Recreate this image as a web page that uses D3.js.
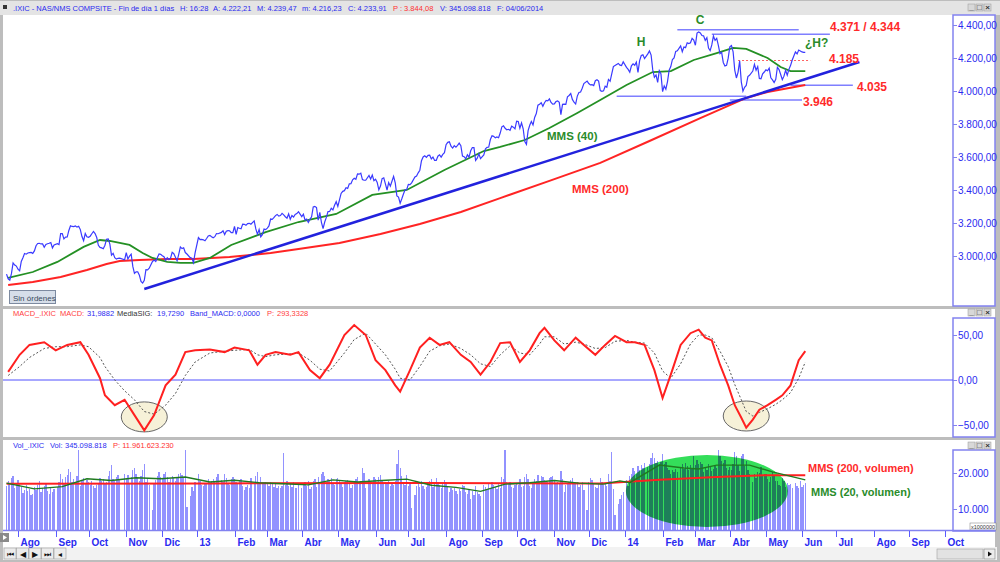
<!DOCTYPE html>
<html>
<head>
<meta charset="utf-8">
<script src="https://cdn.jsdelivr.net/npm/d3@7"></script>
<style>
body { margin: 0; background: #bdbdbd; }
svg { display: block; font-family: "Liberation Sans", Arial, sans-serif; }
</style>
</head>
<body>
<svg id="chart" width="1000" height="562"></svg>
<script>
// one value per weekday, starting Mon 23 Jul 2012 (null = market closed)
var priceClose = [
  2890,2862,2854,2893,2958, 2945,2939,2920,2910,2967, 2990,3015,3011,3018,3020, 3022,3016,3031,3062,3076,
  3077,3073,3073,3053,3070, 3074,3077,3081,3049,3067, null,3075,3069,3136,3136, 3104,3114,3115,3155,3183,
  3179,3178,3182,3175,3180, 3160,3118,3093,3136,3116, 3113,3120,3135,3149,3136, 3112,3065,3052,3049,3044,
  3065,3102,3104,3072,3005, 3016,2990,2981,2986,2987, null,null,2977,3020,2982, 2999,3011,2937,2895,2904,
  2904,2884,2846,2836,2853, 2917,2916,2926,null,2967, 2976,2967,2991,3012,3010, 3002,2996,2974,2989,2978,
  2987,3022,3014,2992,2971, 3010,3055,3045,3050,3021, 3012,null,2990,2986,2960, 3020,null,3112,3100,3101,
  3098,3092,3106,3121,3125, 3117,3110,3117,3136,3135, null,3143,3153,3130,3150, 3154,3153,3142,3142,3179,
  3131,3172,3168,3165,3193, 3192,3186,3196,3198,3193, null,3213,3164,3131,3161, 3116,3129,3163,3160,3169,
  3182,3224,3222,3232,3245, 3252,3242,3245,3258,3249, 3238,3229,3255,3223,3245, 3236,3252,3257,3268,null,
  3239,3254,3218,3224,3203, 3222,3237,3297,3300,3294, 3217,3265,3204,3166,3206, 3234,3269,3270,3289,3279,
  3307,3329,3300,3340,3379, 3392,3396,3414,3410,3437, 3438,3462,3471,3465,3498, 3496,3502,3463,3459,3459,
  null,3488,3467,3491,3456, 3465,3446,3401,3424,3469, 3474,3437,3400,3445,3423, 3453,3483,3443,3364,3357,
  3320,3347,3376,3401,3403, 3434,3433,3443,null,3479, 3485,3504,3520,3578,3600, 3607,3598,3610,3611,3588,
  3600,3579,3579,3605,3613, 3599,3616,3626,3675,3689, 3692,3666,3654,3669,3660, 3670,3684,3669,3606,3602,
  3589,3613,3599,3638,3657, 3657,3579,3593,3620,3590, null,3612,3649,3658,3660, 3706,3729,3725,3716,3722,
  3717,3745,3783,3789,3774, 3765,3768,3762,3787,3781, 3771,3817,3815,3774,3807, 3771,3694,3677,3760,3792,
  3815,3794,3840,3863,3914, 3920,3929,3907,3929,3943, 3940,3952,3931,3920,3922, 3936,3940,3931,3857,3919,
  3920,3919,3965,3973,3985, 3949,3932,3921,3969,3991, 3994,4017,4045,null,4060, 4045,4037,4038,4033,4062,
  4068,4060,4003,3998,4001, 4029,4023,4070,4059,4104, 4148,4155,null,4167,4157, 4154,4177,null,4143,4131,
  4114,4153,4165,4156,4175, 4113,4184,4215,4219,4197, null,4225,4243,4218,4128, 4083,4097,4052,4123,4104,
  3996,4031,4011,4057,4126, 4148,4191,4201,4240,4244, null,4273,4238,4267,4263, 4292,4287,4292,4319,4308,
  4277,4351,4358,4352,4336, 4334,4307,4323,4260,4245, 4279,4333,4307,4319,4276, 4226,4234,4173,4151,4155,
  4199,4268,4276,4238,4127, 4079,4113,4183,4054,3999, 4022,4034,4087,4095,null, 4121,4161,4126,4148,4076,
  4074,4104,4115,4128,4123, 4139,4080,4067,4051,4071, 4144,4130,4100,4069,4090, 4125,4096,4131,4154,4186,
  null,4237,4225,4248,4243, 4237,4234,4234
];

// volume, same weekday index, axis units (20 = "20.000")
var volume = [
  16.5,17.8,16.9,18.6,19.2, 15.8,17.3,18.1,17.0,16.2, 14.5,15.2,16.8,14.9,15.6, 13.8,14.2,16.1,15.4,16.7,
  17.9,14.6,15.9,16.4,17.2, 15.1,14.3,16.0,14.8,15.5, null,16.2,17.5,19.8,18.4, 17.1,18.9,19.5,21.2,20.4,
  17.6,18.2,17.4,19.1,26.5, 16.3,17.8,18.6,17.2,18.1, 17.4,16.8,17.9,16.5,15.9, 16.7,17.3,18.6,17.8,18.2,
  16.9,17.5,19.3,20.6,22.1, 18.4,17.9,18.8,19.4,18.1, null,null,19.6,18.5,19.4, 17.3,18.8,20.9,21.5,19.7,
  18.6,17.9,19.2,20.7,22.4, 17.5,18.3,16.8,null,9.8, 17.2,18.0,19.1,20.3,18.8, 18.2,19.6,20.4,18.9,17.5,
  18.3,19.2,18.7,17.9,18.5, 19.8,20.1,19.4,18.7,27.0, 10.5,null,13.6,16.2,15.1, 17.4,null,19.8,17.9,16.8,
  16.5,17.1,16.9,18.3,17.2, 17.8,18.4,17.6,18.9,19.6, null,18.1,17.4,19.8,18.6, 17.3,16.8,18.2,18.9,18.4,
  17.6,16.9,17.8,18.2,16.5, 15.4,16.1,16.8,15.9,18.7, null,17.3,19.1,20.4,17.2, 18.8,17.1,16.9,17.6,17.2,
  16.4,17.5,16.9,16.2,17.1, 15.8,16.4,15.9,16.3,25.5, 16.8,17.9,16.5,17.2,16.1, 17.4,15.7,15.9,16.8,null,
  15.8,16.9,17.6,16.4,17.9, 15.6,16.2,17.8,18.4,16.1, 18.9,17.3,19.6,20.2,19.1, 17.4,18.2,17.9,18.6,17.1,
  16.8,18.3,18.6,17.9,17.1, 16.2,17.4,17.8,18.1,17.3, 15.9,16.8,17.6,18.2,18.9, 17.4,17.9,21.3,20.1,15.8,
  null,18.4,17.6,17.1,18.8, 18.4,17.6,18.9,19.4,17.8, 16.9,17.5,17.1,17.8,16.4, 17.2,16.6,17.9,22.6,26.8,
  21.4,19.2,17.6,16.8,19.5, 16.4,16.9,10.2,null,13.8, 16.5,16.9,16.2,17.8,16.4, 15.6,16.2,16.8,17.9,18.4,
  16.1,17.2,18.6,17.4,16.8, 15.9,17.3,18.1,17.6,16.2, 14.8,15.9,15.4,15.7,14.9, 14.2,15.6,15.1,16.8,16.3,
  14.6,14.2,15.3,12.8,14.9, 13.9,16.4,14.7,14.2,13.6, null,16.8,16.2,15.4,17.1, 15.9,17.4,16.8,16.1,15.6,
  16.9,15.8,18.9,18.2,27.2, 17.6,16.9,17.4,16.1,15.8, 16.7,17.2,16.8,18.4,16.1, 16.5,18.9,19.6,18.2,16.4,
  15.8,17.6,18.3,17.9,19.4, 17.6,19.2,18.8,18.1,17.9, 17.4,18.6,18.9,19.3,17.8, 16.9,17.4,17.1,20.6,18.4,
  14.6,16.8,17.2,17.5,18.1, 18.6,17.4,16.9,17.6,16.2, 16.8,17.5,15.2,null,9.6, 17.4,18.6,18.1,16.9,16.2,
  15.8,17.1,18.6,17.4,16.8, 17.2,16.4,19.8,17.9,25.8, 15.6,8.2,null,11.4,12.9, 13.8,14.6,null,18.1,16.4,
  19.2,19.8,21.4,20.6,19.7, 21.9,20.8,22.1,21.4,22.8, null,21.6,22.4,24.1,25.6, 24.2,22.8,23.4,22.6,23.1,
  25.2,22.6,23.1,21.4,20.8, 19.6,20.9,20.4,21.1,20.2, null,21.6,22.4,21.2,22.7, 21.9,20.8,22.3,21.4,24.6,
  22.1,23.6,22.4,23.1,22.6, 20.4,21.8,20.9,22.6,21.7, 20.6,21.2,21.9,21.4,27.6, 24.8,23.2,22.9,23.6,21.4,
  20.8,21.6,20.9,22.4,25.8, 24.6,22.1,20.6,24.8,25.2, 21.9,23.4,20.8,19.6,null, 17.4,19.8,18.6,20.4,19.9,
  21.6,19.2,19.8,19.6,18.4, 17.6,18.9,20.4,19.1,17.8, 17.9,16.8,16.4,18.6,17.9, 16.2,17.1,16.6,16.9,15.8,
  null,17.2,16.4,15.9,17.8, 16.1,16.8,17.3
];

var mms40 = [
  ["2012-07-24",2867],["2012-08-14",2903],["2012-09-04",2964],["2012-09-26",3055],["2012-10-10",3097],
  ["2012-10-18",3091],["2012-11-05",3067],["2012-11-15",3018],["2012-11-23",2988],["2012-12-06",2964],
  ["2012-12-18",2958],["2012-12-28",2958],["2013-01-11",2988],["2013-01-30",3067],["2013-02-28",3145],
  ["2013-03-28",3206],["2013-04-30",3255],["2013-05-30",3370],["2013-06-28",3400],["2013-07-31",3521],
  ["2013-09-03",3636],["2013-09-17",3661],["2013-10-08",3703],["2013-10-29",3776],["2013-11-21",3867],
  ["2013-12-11",3945],["2014-01-02",4036],["2014-01-24",4115],["2014-02-10",4121],["2014-02-28",4188],
  ["2014-03-20",4230],["2014-04-03",4261],["2014-04-15",4255],["2014-05-02",4200],["2014-05-14",4145],
  ["2014-05-22",4121],["2014-06-04",4121]
];

var mms200 = [
  ["2012-07-24",2824],["2012-08-14",2842],["2012-09-06",2873],["2012-09-28",2915],["2012-10-16",2952],
  ["2012-10-26",2970],["2012-11-13",2976],["2012-12-06",2982],["2012-12-28",2982],["2013-01-29",2994],
  ["2013-03-05",3018],["2013-03-28",3042],["2013-05-02",3079],["2013-06-06",3133],["2013-07-10",3194],
  ["2013-08-14",3267],["2013-09-17",3351],["2013-10-29",3455],["2013-12-11",3564],["2014-01-22",3697],
  ["2014-03-06",3836],["2014-04-15",3958],["2014-05-02",3994],["2014-06-04",4036]
];

var trendLine = [["2012-11-16",2800],["2014-07-21",4176]];

// [from, to, level]
var levelLines = [
  ["2014-02-14","2014-05-29",4371],
  ["2014-03-17","2014-06-25",4344],
  ["2013-12-25","2014-04-15",3968],
  ["2014-04-01","2014-06-02",3946],
  ["2014-05-22","2014-07-15",4035]
];
var resistance = ["2014-04-08","2014-06-09",4185];

var priceTicks = [3000,3200,3400,3600,3800,4000,4200,4400];

var macdDates = [
  "2012-07-24","2012-08-02","2012-08-10","2012-08-23","2012-09-03","2012-09-12","2012-09-24","2012-10-01",
  "2012-10-10","2012-10-15","2012-10-23","2012-10-31","2012-11-08","2012-11-16","2012-11-26","2012-12-05",
  "2012-12-13","2012-12-21","2012-12-31","2013-01-11","2013-01-24","2013-02-01","2013-02-14","2013-02-21",
  "2013-02-28","2013-03-08","2013-03-21","2013-03-28","2013-04-08","2013-04-16","2013-04-24","2013-05-07",
  "2013-05-15","2013-05-24","2013-06-03","2013-06-11","2013-06-19","2013-06-24","2013-07-02","2013-07-10",
  "2013-07-18","2013-07-26","2013-08-05","2013-08-14","2013-08-22","2013-08-30","2013-09-09","2013-09-17",
  "2013-09-25","2013-10-03","2013-10-11","2013-10-21","2013-10-24","2013-11-01","2013-11-11","2013-11-20",
  "2013-11-27","2013-12-06","2013-12-16","2013-12-24","2014-01-02","2014-01-09","2014-01-17","2014-01-27",
  "2014-02-03","2014-02-10","2014-02-18","2014-02-26","2014-03-05","2014-03-11","2014-03-17","2014-03-24",
  "2014-03-31","2014-04-04","2014-04-10","2014-04-15","2014-04-21","2014-04-25","2014-05-02","2014-05-09",
  "2014-05-15","2014-05-22","2014-05-29","2014-06-04"
];
var macdLine = [
  9,28,39,42,33,39,42,28, 2,-17,-28,-22,-39,-56,-39,-6,
  6,31,33,34,31,36,33,17, 28,31,28,31,11,2,17,50,
  61,50,22,11,-6,-13,11,36, 47,39,42,28,20,6,20,41,
  42,20,33,52,58,44,33,47, 39,28,39,49,42,42,39,11,
  -20,6,39,52,56,47,44,17, -6,-28,-42,-53,-44,-33,-28,-22,
  -17,-6,22,32
];
var macdSignal = [
  5,15,25,35,37,37,39,37, 25,15,0,-12,-22,-35,-38,-28,
  -15,5,20,30,32,33,34,28, 26,28,29,30,22,12,10,30,
  45,52,40,28,12,2,0,15, 32,38,40,35,28,18,15,28,
  38,30,28,40,48,48,40,42, 40,35,36,43,44,42,41,30,
  10,2,18,40,50,50,47,32, 15,-5,-22,-35,-40,-36,-32,-27,
  -22,-14,2,20
];
var macdTicks = [-50,0,50];
var macdCircles = [["2012-11-16",-41],["2014-04-15",-40]];

var volMA20 = [
  ["2012-07-23",17.2],["2012-08-15",15.6],["2012-09-07",16.2],["2012-09-28",18.4],["2012-10-19",17.9],
  ["2012-11-09",18.7],["2012-11-30",18.4],["2012-12-21",18.9],["2013-01-11",17.5],["2013-02-01",18.0],
  ["2013-02-22",17.3],["2013-03-15",17.0],["2013-04-05",16.7],["2013-04-26",18.1],["2013-05-17",17.5],
  ["2013-06-07",17.9],["2013-06-28",18.3],["2013-07-19",16.6],["2013-08-09",16.0],["2013-08-30",14.9],
  ["2013-09-20",16.9],["2013-10-11",17.3],["2013-11-01",17.9],["2013-11-22",17.2],["2013-12-13",16.9],
  ["2013-12-27",17.8],["2014-01-06",17.3],["2014-01-30",22.2],["2014-02-20",21.4],["2014-03-05",21.1],
  ["2014-03-20",22.2],["2014-04-17",22.2],["2014-05-07",20.3],["2014-06-04",18.1]
];
var volMA200 = [
  ["2012-07-23",17.0],["2013-01-15",17.1],["2013-07-15",17.2],["2013-12-11",17.1],
  ["2014-01-30",18.1],["2014-03-20",18.9],["2014-05-01",19.4],["2014-06-04",19.4]
];
var volTicks = [10,20];
var volZone = ["2014-03-12",15.0];

var monthNames = ["Ene","Feb","Mar","Abr","May","Jun","Jul","Ago","Sep","Oct","Nov","Dic"];

// ---------------------------------------------------------------
var svg = d3.select("#chart");
var parse = d3.timeParse("%Y-%m-%d");
var origin = new Date(2012, 6, 23);
function wd(s) {
  var dt = typeof s === "string" ? parse(s) : s;
  var d = d3.timeDay.count(origin, dt);
  return Math.floor(d / 7) * 5 + Math.min(d % 7, 5);
}
var x = d3.scaleLinear().domain([wd("2012-08-01"), wd("2014-06-02")]).range([18, 802]);
var yP = d3.scaleLinear().domain([3000, 4400]).range([256, 25]);
var yM = d3.scaleLinear().domain([-50, 50]).range([425, 335]);
var yV = d3.scaleLinear().domain([10, 20]).range([509, 473]);

var loc = d3.formatLocale({decimal: ",", thousands: ".", grouping: [3], currency: ["", ""]});
var fmt2 = loc.format(",.2f"), fmt0 = loc.format(",.0f");

var blue = "#3a3aff", axisBlue = "#8282f0", txtBlue = "#2a2af0";

// frame
svg.append("rect").attr("width", 1000).attr("height", 562).attr("fill", "#bdbdbd");
svg.append("rect").attr("x", 0).attr("y", 1).attr("width", 1000).attr("height", 14).attr("fill", "#e4e4e4");
[[15, 306], [309, 437], [440, 547]].forEach(function (p) {
  svg.append("rect").attr("x", 3).attr("y", p[0]).attr("width", 992).attr("height", p[1] - p[0]).attr("fill", "#fff");
});
svg.append("rect").attr("x", 3).attr("y", 547).attr("width", 994).attr("height", 13).attr("fill", "#f2f2f2");

var defs = svg.append("defs");
function clip(id, y0, y1) {
  defs.append("clipPath").attr("id", id).append("rect").attr("x", 3).attr("y", y0).attr("width", 950).attr("height", y1 - y0);
  return "url(#" + id + ")";
}
var clipMain = clip("cm", 15, 306), clipMacd = clip("cmacd", 318, 437), clipVol = clip("cvol", 450, 530);

// right axis boxes
[[15, 306], [318, 437], [450, 531]].forEach(function (p) {
  svg.append("rect").attr("x", 953).attr("y", p[0]).attr("width", 42).attr("height", p[1] - p[0])
    .attr("fill", "#fff").attr("stroke", axisBlue).attr("stroke-width", 1.5);
});

// window buttons
[4, 309, 442].forEach(function (y) {
  ["_", "\u25A1", "\u00D7"].forEach(function (s, i) {
    var g = svg.append("g").attr("transform", "translate(" + (968 + i * 8) + "," + y + ")");
    g.append("rect").attr("width", 7).attr("height", 7).attr("fill", "#d8d8d8").attr("stroke", "#999").attr("stroke-width", 0.5);
    g.append("text").attr("x", 3.5).attr("y", 6.3).attr("text-anchor", "middle").attr("font-size", 8)
      .attr("font-weight", "bold").attr("fill", "#333").text(s);
  });
});

// header texts
function headerRow(y, parts) {
  parts.forEach(function (p) {
    svg.append("text").attr("x", p[0]).attr("y", y).attr("font-size", 7.5).attr("fill", p[2]).text(p[1]);
  });
}
svg.append("rect").attr("x", 3).attr("y", 5).attr("width", 4).attr("height", 4).attr("fill", "#333");
headerRow(11, [
  [13, ".IXIC - NAS/NMS COMPSITE - Fin de d\u00EDa 1 d\u00EDas", txtBlue],
  [180, "H: 16:28", txtBlue], [213, "A: 4.222,21", txtBlue], [257, "M: 4.239,47", txtBlue],
  [302, "m: 4.216,23", txtBlue], [348, "C: 4.233,91", txtBlue], [393, "P : 3.844,08", "#ff3030"],
  [440, "V: 345.098.818", txtBlue], [497, "F: 04/06/2014", txtBlue]
]);
headerRow(316, [
  [13, "MACD_.IXIC", "#ff4040"], [60, "MACD:", "#ff4040"], [87, "31,9882", txtBlue],
  [117, "MediaSIG:", "#333"], [157, "19,7290", txtBlue], [190, "Band_MACD:", txtBlue],
  [237, "0,0000", txtBlue], [267, "P:", "#ff4040"], [277, "293,3328", "#ff4040"]
]);
headerRow(448, [
  [13, "Vol_.IXIC", txtBlue], [50, "Vol:", txtBlue], [65, "345.098.818", txtBlue], [113, "P: 11.961.623.230", "#ff3030"]
]);

// right axes
function rightAxis(scale, ticks, fmt) {
  var g = svg.append("g").attr("transform", "translate(953,0)")
    .call(d3.axisRight(scale).tickValues(ticks).tickSize(4).tickPadding(1).tickFormat(fmt));
  g.select(".domain").remove();
  g.selectAll("line").attr("stroke", axisBlue);
  g.selectAll("text").attr("fill", txtBlue).attr("font-size", 10).attr("font-family", "Liberation Sans, Arial, sans-serif");
}
rightAxis(yP, priceTicks, fmt2);
rightAxis(yM, macdTicks, fmt2);
rightAxis(yV, volTicks, function (d) { return fmt0(d * 1000); });

// ---- main panel
var main = svg.append("g").attr("clip-path", clipMain);
var pts = priceClose.map(function (v, i) { return [i, v]; }).filter(function (d) { return d[1] != null; });
var dateLine = d3.line().x(function (d) { return x(wd(d[0])); }).y(function (d) { return yP(d[1]); });

levelLines.forEach(function (l) {
  main.append("line").attr("x1", x(wd(l[0]))).attr("x2", x(wd(l[1])))
    .attr("y1", yP(l[2])).attr("y2", yP(l[2])).attr("stroke", "#7f7fff").attr("stroke-width", 1.5);
});
main.append("line").attr("x1", x(wd(resistance[0]))).attr("x2", x(wd(resistance[1])))
  .attr("y1", yP(resistance[2])).attr("y2", yP(resistance[2]))
  .attr("stroke", "#ff6060").attr("stroke-width", 1.2).attr("stroke-dasharray", "2,2");

main.append("path").datum(mms200).attr("d", dateLine).attr("fill", "none").attr("stroke", "#ff2424").attr("stroke-width", 2);
main.append("path").datum(trendLine).attr("d", dateLine).attr("fill", "none").attr("stroke", "#2222dd").attr("stroke-width", 2.5);
main.append("path").datum(mms40).attr("d", dateLine).attr("fill", "none").attr("stroke", "#249024").attr("stroke-width", 1.8);
main.append("path").datum(pts)
  .attr("d", d3.line().x(function (d) { return x(d[0]); }).y(function (d) { return yP(d[1]); }))
  .attr("fill", "none").attr("stroke", blue).attr("stroke-width", 1.2);

function label(px, py, t, col, size, anchor) {
  svg.append("text").attr("x", px).attr("y", py).attr("fill", col).attr("font-size", size || 12)
    .attr("font-weight", "bold").attr("text-anchor", anchor || "start").text(t);
}
var green = "#2a8c2a", red = "#ff2a2a";
label(700, 24, "C", green, 12, "middle");
label(641, 46, "H", green, 12, "middle");
label(805, 47, "\u00BFH?", green, 12);
label(830, 31, "4.371 / 4.344", red, 12);
label(829, 63, "4.185", red, 12);
label(857, 91, "4.035", red, 12);
label(803, 106, "3.946", red, 12);
label(547, 140, "MMS (40)", green, 11.5);
label(572, 193, "MMS (200)", red, 11.5);

// Sin ordenes button
svg.append("rect").attr("x", 9.5).attr("y", 290.5).attr("width", 46).attr("height", 13)
  .attr("fill", "#d6dee9").attr("stroke", "#7d8aa0");
svg.append("text").attr("x", 13).attr("y", 300.5).attr("font-size", 8).attr("fill", "#3a4a60").text("Sin \u00F3rdenes");

// ---- MACD panel
var mg = svg.append("g").attr("clip-path", clipMacd);
macdCircles.forEach(function (c) {
  mg.append("ellipse").attr("cx", x(wd(c[0]))).attr("cy", yM(c[1])).attr("rx", 23).attr("ry", 15)
    .attr("fill", "#f6f1d8").attr("stroke", "#666").attr("stroke-width", 1);
});
mg.append("line").attr("x1", 3).attr("x2", 953).attr("y1", yM(0)).attr("y2", yM(0)).attr("stroke", "#5050ff").attr("stroke-width", 1);
var macdGen = function (vals) {
  return d3.line().x(function (d, i) { return x(wd(macdDates[i])); }).y(function (d) { return yM(d); })(vals);
};
mg.append("path").attr("d", macdGen(macdSignal)).attr("fill", "none").attr("stroke", "#555")
  .attr("stroke-width", 1).attr("stroke-dasharray", "2,2");
mg.append("path").attr("d", macdGen(macdLine)).attr("fill", "none").attr("stroke", "#ff2020").attr("stroke-width", 2);

// ---- volume panel
var vg = svg.append("g").attr("clip-path", clipVol);
vg.selectAll("rect.vb").data(volume.map(function (v, i) { return [i, v]; }).filter(function (d) { return d[1] != null; }))
  .enter().append("rect").attr("class", "vb")
  .attr("x", function (d) { return x(d[0]) - 0.65; }).attr("width", 1.3)
  .attr("y", function (d) { return yV(d[1]); })
  .attr("height", function (d) { return 530 - yV(d[1]); })
  .attr("fill", "#9292ff").attr("shape-rendering", "crispEdges");
vg.append("ellipse").attr("cx", x(wd(volZone[0]))).attr("cy", yV(volZone[1])).attr("rx", 81).attr("ry", 36)
  .attr("fill", "#34de5a").style("mix-blend-mode", "multiply");
var volLine = d3.line().x(function (d) { return x(wd(d[0])); }).y(function (d) { return yV(d[1]); });
vg.append("path").datum(volMA200).attr("d", volLine).attr("fill", "none").attr("stroke", "#ff2020").attr("stroke-width", 2);
vg.append("path").datum(volMA20).attr("d", volLine).attr("fill", "none").attr("stroke", "#1f7a1f").attr("stroke-width", 1.4);
label(808, 472, "MMS (200, volumen)", red, 11);
label(811, 496, "MMS (20, volumen)", green, 11);
svg.append("rect").attr("x", 970).attr("y", 523).attr("width", 26).attr("height", 7).attr("fill", "#fff").attr("stroke", "#777").attr("stroke-width", 0.5);
svg.append("text").attr("x", 983).attr("y", 529).attr("text-anchor", "middle").attr("font-size", 5.5).attr("fill", "#333").text("x1000000");

// ---- time axis
svg.append("line").attr("x1", 3).attr("x2", 995).attr("y1", 530.5).attr("y2", 530.5).attr("stroke", axisBlue).attr("stroke-width", 1.5);
var months = d3.timeMonth.range(new Date(2012, 7, 1), new Date(2014, 10, 1));
var tg = svg.append("g");
months.forEach(function (m) {
  var px = Math.round(x(wd(m))) + 0.5;
  tg.append("line").attr("x1", px).attr("x2", px).attr("y1", 531).attr("y2", 537).attr("stroke", "#5a5aff");
  var t = m.getMonth() === 0 ? String(m.getFullYear()).slice(2) : monthNames[m.getMonth()];
  tg.append("text").attr("x", px + 2).attr("y", 546).attr("font-size", 10).attr("font-weight", "bold").attr("fill", txtBlue).text(t);
});

// bottom controls
svg.append("rect").attr("x", 0).attr("y", 533).attr("width", 9).attr("height", 9).attr("fill", "#8a8a8a");
svg.append("path").attr("d", "M3,535 L7,537.5 L3,540 Z").attr("fill", "#fff");
["\u23EE", "\u25C0", "\u25B6", "\u23ED", "\u25C2"].forEach(function (s, i) {
  var g = svg.append("g").attr("transform", "translate(" + (4 + i * 12.5) + ",548)");
  g.append("rect").attr("width", 12).attr("height", 11).attr("fill", "#ececec").attr("stroke", "#9a9a9a").attr("stroke-width", 0.6);
  g.append("text").attr("x", 6).attr("y", 9).attr("text-anchor", "middle").attr("font-size", 8).attr("fill", "#111").text(s);
});
svg.append("rect").attr("x", 937).attr("y", 549).attr("width", 46).attr("height", 10).attr("fill", "#e2e2e2").attr("stroke", "#a0a0a0").attr("stroke-width", 0.6);
svg.append("rect").attr("x", 984).attr("y", 549).attr("width", 11).attr("height", 10).attr("fill", "#ececec").attr("stroke", "#808080").attr("stroke-width", 0.6);
svg.append("path").attr("d", "M988,551.5 L992,554 L988,556.5 Z").attr("fill", "#111");
</script>
</body>
</html>
